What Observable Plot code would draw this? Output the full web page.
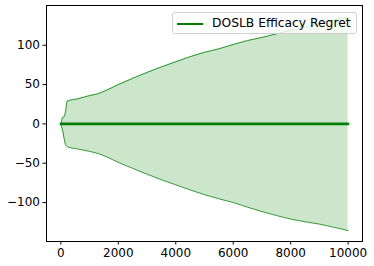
<!DOCTYPE html>
<html>
<head>
<meta charset="utf-8">
<script src="https://cdn.jsdelivr.net/npm/d3@7"></script>
<script src="https://cdn.jsdelivr.net/npm/@observablehq/plot@0.6"></script>
<style>
  html, body { margin: 0; padding: 0; background: #fff; }
  #wrap { position: relative; width: 374px; height: 266px; font-family: "DejaVu Sans", sans-serif; }
  #legend {
    position: absolute; left: 172px; top: 12px; width: 185px; height: 22px;
    background: rgba(255,255,255,0.8); border: 1px solid #d0d0d0; border-radius: 3px;
    box-sizing: border-box; font-size: 12.3px; color: #000;
  }
  #legend .swatch { position: absolute; left: 4px; top: 9.5px; width: 26px; height: 2.6px; background: #008000; }
  #legend .label { position: absolute; left: 39px; top: 2.5px; line-height: 15px; white-space: nowrap; }
</style>
</head>
<body>
<div id="wrap">
  <div id="chart"></div>
  <div id="legend"><div class="swatch"></div><div class="label">DOSLB Efficacy Regret</div></div>
</div>
<script>
const steps = [0, 20, 60, 110, 160, 220, 600, 1000, 1300, 1600, 2000, 2500, 3000, 3500, 4000, 4500, 5000, 5500, 6000, 6500, 7000, 7500, 8000, 8500, 9000, 9500, 10000];
const meanRegret = [0, 0, 0, 0, 0, 0, 0, 0, 0, 0, 0, 0, 0, 0, 0, 0, 0, 0, 0, 0, 0, 0, 0, 0, 0, 0, 0];
const upperBound = [0, 3, 8, 9, 15, 29, 32, 36, 38.5, 43, 50, 58, 65.5, 72.5, 79, 85.5, 91, 95.5, 101, 106, 110, 114.5, 119, 123, 127.5, 132, 136];
const lowerBound = [0, -3, -8, -18, -26, -29, -32, -35, -37.8, -42, -49, -56.5, -64, -71, -77.5, -84, -90, -95.3, -100, -106, -111.5, -116.5, -121, -124.5, -127.5, -131.5, -135.7];
const xTicks = [0, 2000, 4000, 6000, 8000, 10000];
const yTicks = [-100, -50, 0, 50, 100];
const seriesName = "DOSLB Efficacy Regret";

const data = steps.map((x, i) => ({x, mean: meanRegret[i], lo: lowerBound[i], hi: upperBound[i]}));
const fmt = d3.format("d");

const chart = Plot.plot({
  width: 374,
  height: 266,
  marginLeft: 46,
  marginRight: 12,
  marginTop: 5,
  marginBottom: 25,
  style: {fontFamily: "DejaVu Sans, sans-serif", fontSize: "12px", color: "#000", background: "#fff"},
  x: {domain: [-500, 10500]},
  y: {domain: [-149.6, 150.6]},
  marks: [
    Plot.areaY(data, {x: "x", y1: "lo", y2: "hi", fill: "green", fillOpacity: 0.2, curve: "monotone-x"}),
    Plot.line(data, {x: "x", y: "hi", stroke: "green", strokeOpacity: 0.8, strokeWidth: 1, curve: "monotone-x"}),
    Plot.line(data, {x: "x", y: "lo", stroke: "green", strokeOpacity: 0.8, strokeWidth: 1, curve: "monotone-x"}),
    Plot.line(data, {x: "x", y: "mean", stroke: "#008000", strokeWidth: 2.6}),
    Plot.frame({stroke: "#000", strokeWidth: 1}),
    Plot.axisX({ticks: xTicks, tickFormat: fmt, tickSize: 3.5, tickPadding: 3, label: null, fontSize: 12}),
    Plot.axisY({ticks: yTicks, tickFormat: fmt, tickSize: 3.5, tickPadding: 3, label: null, fontSize: 12})
  ]
});
document.getElementById("chart").appendChild(chart);
</script>
</body>
</html>
